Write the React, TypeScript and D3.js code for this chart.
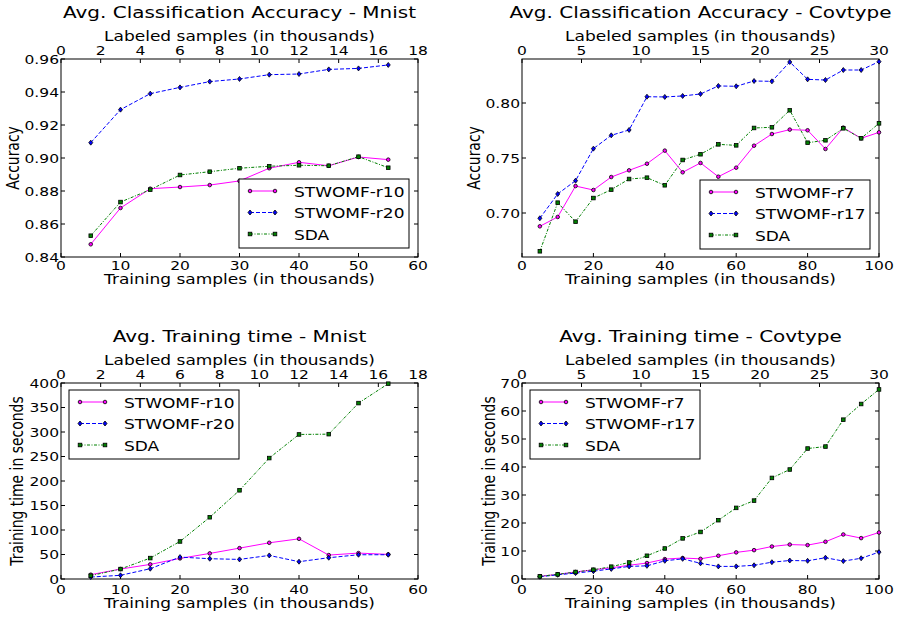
import React, { useRef, useEffect } from "react";
import * as d3 from "d3";

// x values (training samples, thousands)
const mnistTrain = [5, 10, 15, 20, 25, 30, 35, 40, 45, 50, 55];
const covTrain = [5, 10, 15, 20, 25, 30, 35, 40, 45, 50, 55, 60, 65, 70, 75, 80, 85, 90, 95, 100];

// accuracy - mnist
const mnistAccR10 = [0.8477, 0.8697, 0.8814, 0.8824, 0.8836, 0.8861, 0.8938, 0.8974, 0.8953, 0.9006, 0.899];
const mnistAccR20 = [0.9093, 0.9293, 0.939, 0.9428, 0.9463, 0.9479, 0.9505, 0.9509, 0.9537, 0.9543, 0.9564];
const mnistAccSDA = [0.8529, 0.8733, 0.8808, 0.8897, 0.8917, 0.8938, 0.895, 0.8956, 0.8953, 0.9008, 0.8941];

// accuracy - covtype
const covAccR7 = [0.6879, 0.6964, 0.7245, 0.7209, 0.7327, 0.7388, 0.7448, 0.7567, 0.737, 0.7455,
  0.733, 0.7412, 0.7612, 0.7718, 0.7758, 0.7752, 0.7582, 0.7776, 0.7679, 0.7733];
const covAccR17 = [0.6952, 0.7173, 0.7294, 0.7585, 0.7706, 0.7755, 0.8057, 0.8055, 0.8064, 0.8082,
  0.8155, 0.8152, 0.82, 0.8197, 0.8373, 0.8215, 0.8209, 0.83, 0.83, 0.8376];
const covAccSDA = [0.6652, 0.7094, 0.6921, 0.7136, 0.7212, 0.7309, 0.7321, 0.7252, 0.7482, 0.7534,
  0.7624, 0.7615, 0.7773, 0.7779, 0.7934, 0.7639, 0.7661, 0.777, 0.7679, 0.7815];

// training time - mnist
const mnistTimeR10 = [8.8, 20.3, 29.8, 42, 52.2, 63, 73.9, 82, 48.8, 52.9, 50.2];
const mnistTimeR20 = [4, 7.5, 21, 44.7, 41.4, 40, 48.1, 35.3, 43.4, 49.5, 49.5];
const mnistTimeSDA = [6.8, 20.3, 42.7, 76.6, 126, 181, 246.8, 295, 295.6, 359, 398.6];

// training time - covtype
const covTimeR7 = [0.95, 1.66, 2.5, 3.3, 4.0, 4.9, 5.7, 7.1, 7.5, 7.2, 8.3, 9.5, 10.3, 11.6, 12.3, 12.1, 13.3, 15.9, 14.6, 16.6];
const covTimeR17 = [0.8, 1.5, 2.1, 2.8, 3.6, 4.5, 4.7, 6.5, 7.2, 5.6, 4.5, 4.5, 4.9, 6.0, 6.6, 6.5, 7.6, 6.4, 7.4, 9.6];
const covTimeSDA = [0.95, 1.66, 2.5, 3.3, 4.4, 5.9, 8.3, 10.9, 14.5, 16.8, 21.0, 25.4, 28.0, 36.1, 39.1, 46.6, 47.3, 56.9, 62.5, 67.7];

// tick values
const mnistBottomTicks = [0, 10, 20, 30, 40, 50, 60];
const mnistTopTicks = [0, 2, 4, 6, 8, 10, 12, 14, 16, 18];
const covBottomTicks = [0, 20, 40, 60, 80, 100];
const covTopTicks = [0, 5, 10, 15, 20, 25, 30];
const mnistAccTicks = [0.84, 0.86, 0.88, 0.9, 0.92, 0.94, 0.96];
const covAccTicks = [0.7, 0.75, 0.8];
const mnistTimeTicks = [0, 50, 100, 150, 200, 250, 300, 350, 400];
const covTimeTicks = [0, 10, 20, 30, 40, 50, 60, 70];

const SY = 0.82; // picture is squashed vertically
const FONT = "DejaVu Sans";

const styles = [
  { color: "#ff00ff", dash: null, marker: "circle" },
  { color: "#0000ff", dash: "4,2", marker: "diamond" },
  { color: "#008000", dash: "3,1.5,1,1.5", marker: "square" },
];

const panels = [
  {
    x0: 61, x1: 418, y0: 59, y1: 257, base: 0,
    title: "Avg. Classification Accuracy - Mnist", ylabel: "Accuracy", ylabelX: 13,
    xs: mnistTrain, series: [mnistAccR10, mnistAccR20, mnistAccSDA],
    names: ["STWOMF-r10", "STWOMF-r20", "SDA"],
    xMax: 60, topMax: 18, bottomTicks: mnistBottomTicks, topTicks: mnistTopTicks,
    yDomain: [0.84, 0.96], yTicks: mnistAccTicks, fmt: d3.format(".2f"),
    legend: [239, 179],
  },
  {
    x0: 522, x1: 879, y0: 59, y1: 257, base: 0,
    title: "Avg. Classification Accuracy - Covtype", ylabel: "Accuracy", ylabelX: 474,
    xs: covTrain, series: [covAccR7, covAccR17, covAccSDA],
    names: ["STWOMF-r7", "STWOMF-r17", "SDA"],
    xMax: 100, topMax: 30, bottomTicks: covBottomTicks, topTicks: covTopTicks,
    yDomain: [0.66, 0.84], yTicks: covAccTicks, fmt: d3.format(".2f"),
    legend: [700, 180],
  },
  {
    x0: 61, x1: 418, y0: 383, y1: 579, base: 324,
    title: "Avg. Training time - Mnist", ylabel: "Training time in seconds", ylabelX: 17,
    xs: mnistTrain, series: [mnistTimeR10, mnistTimeR20, mnistTimeSDA],
    names: ["STWOMF-r10", "STWOMF-r20", "SDA"],
    xMax: 60, topMax: 18, bottomTicks: mnistBottomTicks, topTicks: mnistTopTicks,
    yDomain: [0, 400], yTicks: mnistTimeTicks, fmt: d3.format("d"),
    legend: [69, 390],
  },
  {
    x0: 522, x1: 879, y0: 383, y1: 579, base: 324,
    title: "Avg. Training time - Covtype", ylabel: "Training time in seconds", ylabelX: 489,
    xs: covTrain, series: [covTimeR7, covTimeR17, covTimeSDA],
    names: ["STWOMF-r7", "STWOMF-r17", "SDA"],
    xMax: 100, topMax: 30, bottomTicks: covBottomTicks, topTicks: covTopTicks,
    yDomain: [0, 70], yTicks: covTimeTicks, fmt: d3.format("d"),
    legend: [530, 390],
  },
];

function txt(g, x, y, s, size, anchor, rot = false) {
  g.append("text")
    .attr("transform", `translate(${x},${y}) scale(1,${SY})${rot ? " rotate(-90)" : ""}`)
    .attr("text-anchor", anchor)
    .style("font-family", FONT)
    .style("font-size", size + "px")
    .attr("fill", "black")
    .text(s);
}

function marker(g, type, x, y) {
  if (type === "circle") {
    g.append("circle").attr("cx", x).attr("cy", y).attr("r", 1.8)
      .attr("fill", "#ff00ff").attr("stroke", "black").attr("stroke-width", 0.8);
  } else if (type === "diamond") {
    g.append("path").attr("d", `M${x},${y - 2.5}L${x + 2},${y}L${x},${y + 2.5}L${x - 2},${y}Z`)
      .attr("fill", "#0000ff").attr("stroke", "black").attr("stroke-width", 0.8);
  } else {
    g.append("rect").attr("x", x - 1.8).attr("y", y - 1.8).attr("width", 3.6).attr("height", 3.6)
      .attr("fill", "#008000").attr("stroke", "black").attr("stroke-width", 0.8);
  }
}

const App = () => {
  const svgRef = useRef(null);

  useEffect(() => {
    const svg = d3.select(svgRef.current);
    svg.selectAll("*").remove();

    panels.forEach(p => {
      const g = svg.append("g");
      const x = d3.scaleLinear().domain([0, p.xMax]).range([p.x0, p.x1]);
      const xTop = d3.scaleLinear().domain([0, p.topMax]).range([p.x0, p.x1]);
      const y = d3.scaleLinear().domain(p.yDomain).range([p.y1, p.y0]);
      const b = p.base;

      // frame
      g.append("rect").attr("x", p.x0).attr("y", p.y0)
        .attr("width", p.x1 - p.x0).attr("height", p.y1 - p.y0)
        .attr("fill", "white").attr("stroke", "black").attr("stroke-width", 1);

      // ticks
      p.bottomTicks.forEach(t => {
        g.append("line").attr("x1", x(t)).attr("x2", x(t)).attr("y1", p.y1).attr("y2", p.y1 - 4)
          .attr("stroke", "black");
        txt(g, x(t), 270 + b, String(t), 15.5, "middle");
      });
      p.topTicks.forEach(t => {
        g.append("line").attr("x1", xTop(t)).attr("x2", xTop(t)).attr("y1", p.y0).attr("y2", p.y0 + 4)
          .attr("stroke", "black");
        txt(g, xTop(t), 55 + b, String(t), 15.5, "middle");
      });
      p.yTicks.forEach(t => {
        g.append("line").attr("x1", p.x0).attr("x2", p.x0 + 4).attr("y1", y(t)).attr("y2", y(t))
          .attr("stroke", "black");
        g.append("line").attr("x1", p.x1).attr("x2", p.x1 - 4).attr("y1", y(t)).attr("y2", y(t))
          .attr("stroke", "black");
        txt(g, p.x0 - 2, y(t) + 4.7, p.fmt(t), 15.5, "end");
      });

      // labels
      const cx = (p.x0 + p.x1) / 2;
      txt(g, cx, 18 + b, p.title, 20, "middle");
      txt(g, cx, 41 + b, "Labeled samples (in thousands)", 17, "middle");
      txt(g, cx, 284 + b, "Training samples (in thousands)", 17, "middle");
      txt(g, p.ylabelX + 6, (p.y0 + p.y1) / 2, p.ylabel, 17, "middle", true);

      // lines
      const plot = g.append("g");
      p.series.forEach((s, i) => {
        const st = styles[i];
        const line = d3.line().x((d, j) => x(p.xs[j])).y(d => y(d));
        plot.append("path").datum(s).attr("d", line)
          .attr("fill", "none").attr("stroke", st.color).attr("stroke-width", 1)
          .attr("stroke-dasharray", st.dash);
        s.forEach((d, j) => marker(plot, st.marker, x(p.xs[j]), y(d)));
      });

      // legend
      const [lx, ly] = p.legend;
      const lg = g.append("g");
      lg.append("rect").attr("x", lx).attr("y", ly).attr("width", 170).attr("height", 69)
        .attr("fill", "white").attr("stroke", "black").attr("stroke-width", 1);
      [12, 33.5, 55].forEach((off, i) => {
        const st = styles[i];
        const yy = ly + off;
        lg.append("line").attr("x1", lx + 11).attr("x2", lx + 36).attr("y1", yy).attr("y2", yy)
          .attr("stroke", st.color).attr("stroke-width", 1).attr("stroke-dasharray", st.dash);
        marker(lg, st.marker, lx + 11, yy);
        marker(lg, st.marker, lx + 36, yy);
        txt(lg, lx + 55, yy + 5.5, p.names[i], 17, "start");
      });
    });
  }, []);

  return (
    <div>
      <svg ref={svgRef} width={903} height={617}
        style={{ position: "absolute", left: 0, top: 0, background: "white" }}>
      </svg>
    </div>
  );
};

export default App;
